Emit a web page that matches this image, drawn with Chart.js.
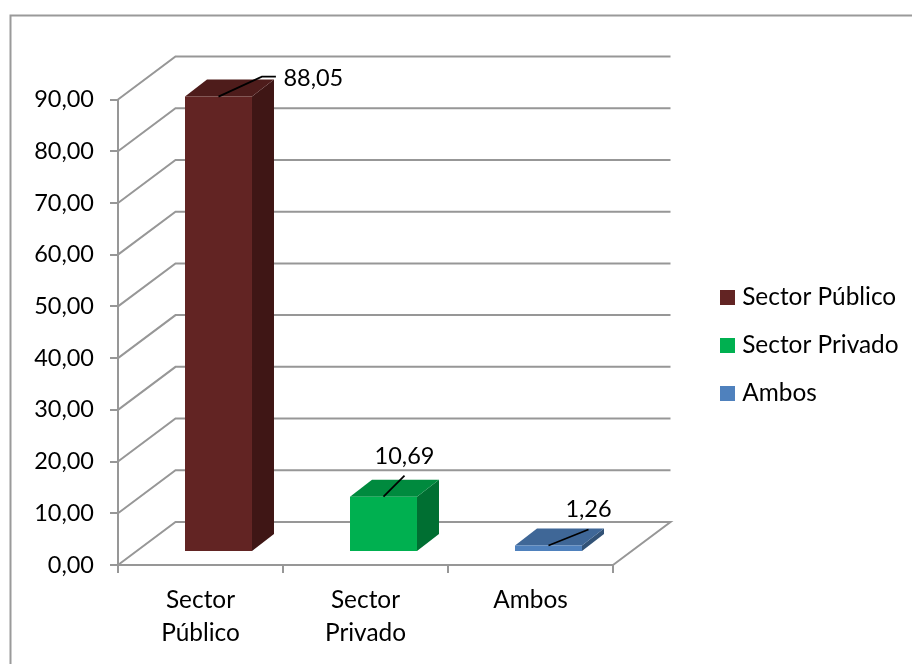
<!DOCTYPE html>
<html><head><meta charset="utf-8">
<style>html,body{margin:0;padding:0;background:#fff}canvas{display:block}</style>
<script src="https://cdn.jsdelivr.net/npm/chart.js@4"></script></head>
<body><div style="width:912px;height:664px"><canvas id="c" width="912" height="664"></canvas></div>
<script>
const categories = ["Sector Público", "Sector Privado", "Ambos"];
const categoryLines = [["Sector", "Público"], ["Sector", "Privado"], ["Ambos"]];
const values = [88.05, 10.69, 1.26];
const valueLabels = ["88,05", "10,69", "1,26"];
const frontColors = ["#622423", "#00B050", "#4F81BD"];
const topColors = ["#4E1C1B", "#008A3E", "#3F6797"];
const sideColors = ["#3F1615", "#006F32", "#325276"];
const leaders = [[43.4, -20, 57.4, -20], [21, -21, 21, -21], [40, -16, 40, -16]];
const yMax = 90, yStep = 10;
const wall = {dx: 57.5, dy: -43};
const bar = {dx: 18, dy: -13, sx: 22, sy: -17};
const FONT = 'Lato,"Open Sans",sans-serif';
const FS = 24.4, FS_NUM = 23.5;
const GRID = '#979797';

function legendSwatch(color) {
  const c = document.createElement('canvas');
  c.width = 20; c.height = 15;
  const g = c.getContext('2d');
  g.fillStyle = color; g.fillRect(5, 0, 15, 15);
  return c;
}

const threeD = {
  id: 'threeD',
  afterLayout(ch) {
    const L = ch.legend;
    L.left = 720 - 23.6; L.right = 930;
    L.top = 261.5; L.bottom = 480;
  },
  beforeDatasetsDraw(ch) {
    const {ctx, chartArea: a, scales: {y}} = ch;
    ctx.save();
    ctx.strokeStyle = '#9A9A9A'; ctx.lineWidth = 2;
    ctx.beginPath(); ctx.moveTo(10.5, 680); ctx.lineTo(10.5, 15.5); ctx.lineTo(930, 15.5); ctx.stroke();
    ctx.strokeStyle = GRID; ctx.lineWidth = 2;
    for (let v = 0; v <= yMax; v += yStep) {
      const p = y.getPixelForValue(v);
      ctx.beginPath();
      ctx.moveTo(a.left, p); ctx.lineTo(a.left + wall.dx, p + wall.dy);
      ctx.lineTo(a.right + wall.dx, p + wall.dy);
      if (v === 0) ctx.lineTo(a.right, p);
      ctx.stroke();
    }
    ctx.restore();
    const meta = ch.getDatasetMeta(0);
    meta.data.forEach((el, i) => {
      const hw = el.width / 2, x1 = el.x + hw + bar.dx, t = el.y + bar.dy, b = el.base + bar.dy, xl = el.x - hw + bar.dx;
      ctx.save();
      ctx.fillStyle = sideColors[i];
      ctx.beginPath(); ctx.moveTo(x1, t); ctx.lineTo(x1 + bar.sx, t + bar.sy); ctx.lineTo(x1 + bar.sx, b + bar.sy); ctx.lineTo(x1, b); ctx.closePath(); ctx.fill();
      ctx.fillStyle = topColors[i];
      ctx.beginPath(); ctx.moveTo(xl, t); ctx.lineTo(xl + bar.sx, t + bar.sy); ctx.lineTo(x1 + bar.sx, t + bar.sy); ctx.lineTo(x1, t); ctx.closePath(); ctx.fill();
      ctx.restore();
    });
    ctx.save(); ctx.translate(bar.dx, bar.dy);
  },
  afterDatasetsDraw(ch) {
    const {ctx} = ch;
    ctx.restore();
    ctx.save();
    const meta = ch.getDatasetMeta(0);
    ctx.font = FS_NUM + 'px ' + FONT; ctx.fillStyle = '#000'; ctx.textBaseline = 'alphabetic';
    meta.data.forEach((el, i) => {
      const sx = el.x + bar.dx, sy = el.y + bar.dy;
      const L = leaders[i];
      ctx.strokeStyle = '#000'; ctx.lineWidth = 1.8;
      ctx.beginPath(); ctx.moveTo(sx, sy);
      ctx.lineTo(sx + L[0], sy + L[1]); ctx.lineTo(sx + L[2], sy + L[3]); ctx.stroke();
      if (i === 0) { ctx.textAlign = 'left'; ctx.fillText(valueLabels[i], sx + L[2] + 7.5, sy + L[3] + 9); }
      else { ctx.textAlign = 'center'; ctx.fillText(valueLabels[i], sx + L[2], sy + L[3] - 12); }
    });
    ctx.restore();
  }
};

new Chart(document.getElementById('c'), {
  type: 'bar',
  data: {labels: categoryLines, datasets: [{data: values, backgroundColor: frontColors, categoryPercentage: 1, barPercentage: 0.406, borderWidth: 0}]},
  plugins: [threeD],
  options: {
    responsive: false, animation: false,
    layout: {padding: {left: 0, right: 298, top: 99.5, bottom: 0}},
    plugins: {
      tooltip: {enabled: false},
      legend: {
        position: 'right', align: 'start', maxWidth: 1,
        labels: {
          color: '#000', font: {size: FS, family: FONT}, usePointStyle: true, pointStyleWidth: 10, boxHeight: 15, padding: 23.6,
          generateLabels: () => categories.map((t, i) => ({text: t, pointStyle: legendSwatch(frontColors[i]), fillStyle: frontColors[i], strokeStyle: frontColors[i], lineWidth: 0, index: i}))
        }
      }
    },
    scales: {
      x: {
        afterFit(s) { s.height = 99; },
        grid: {display: true, drawOnChartArea: false, color: GRID, lineWidth: 2, tickLength: 8, offset: true},
        border: {color: GRID, width: 2},
        ticks: {color: '#000', font: {size: FS, family: FONT, lineHeight: 1.35}, padding: 11, maxRotation: 0}
      },
      y: {
        afterFit(s) { s.width = 118; },
        min: 0, max: yMax,
        grid: {display: true, drawOnChartArea: false, color: GRID, lineWidth: 2, tickLength: 8},
        border: {color: GRID, width: 2},
        ticks: {stepSize: yStep, color: '#000', font: {size: FS_NUM, family: FONT}, padding: 16, callback: v => v.toFixed(2).replace('.', ',')}
      }
    }
  }
});
</script></body></html>
